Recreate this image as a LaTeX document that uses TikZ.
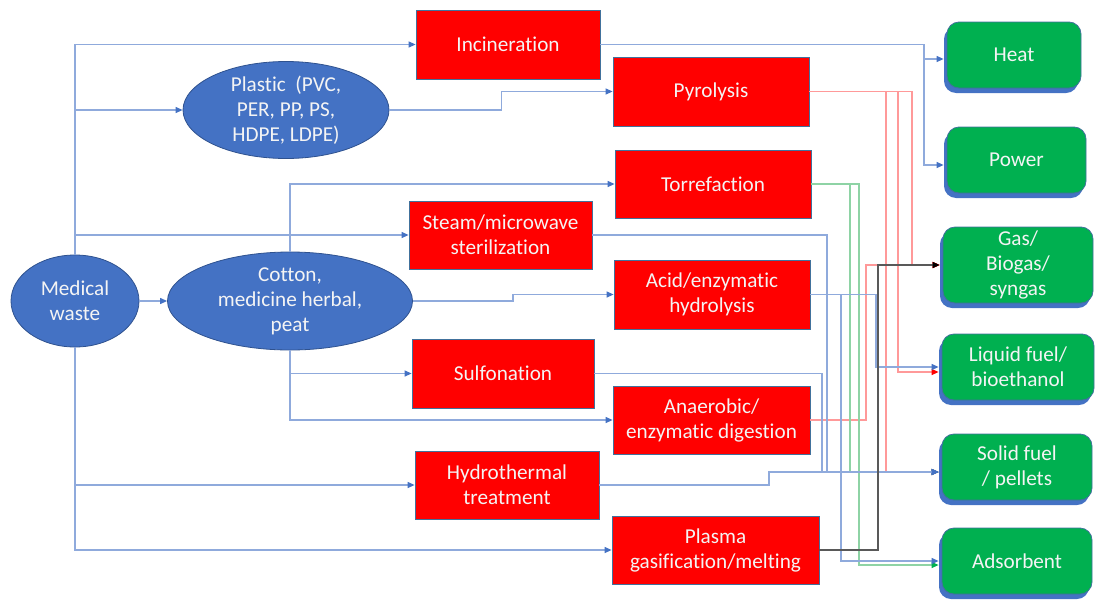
\documentclass[tikz,border=0pt]{standalone}
\usepackage{fontspec}
\setmainfont{Carlito}[Ligatures={NoCommon}]
\usetikzlibrary{arrows.meta,shapes.geometric,shadows,calc}
\definecolor{eblue}{HTML}{4472C4}
\definecolor{eborder}{HTML}{2F528F}
\definecolor{lblue}{HTML}{8FAADC}
\definecolor{lred}{HTML}{FF9999}
\definecolor{lgreen}{HTML}{8ED3A5}
\definecolor{gfill}{HTML}{00B050}
\definecolor{bborder}{HTML}{41719C}
\definecolor{ltext}{HTML}{F4F4F4}
\begin{document}
\begin{tikzpicture}[x=1pt,y=-1pt,
  font=\fontsize{21.2}{25}\selectfont,
  ell/.style={ellipse, fill=eblue, draw=eborder, line width=0.8pt, text=ltext, align=center, inner sep=0pt},
  proc/.style={rectangle, fill=red, draw=bborder, line width=0.8pt, text=ltext, align=center, inner sep=0pt},
  prod/.style={rectangle, rounded corners=12pt, fill=gfill, draw=bborder, line width=0.8pt, text=ltext, align=center, inner sep=0pt,
    general shadow={fill=eblue, shadow xshift=-3pt, shadow yshift=-5pt}},
  bla/.style={draw=lblue, line width=1.2pt, -{Triangle[length=7pt,width=6pt,color=eblue]}},
  rda/.style={draw=lred, line width=1.2pt, -{Triangle[length=7pt,width=6pt,color=red]}},
  gra/.style={draw=lgreen, line width=1.2pt, -{Triangle[length=7pt,width=6pt,color=gfill]}},
  bka/.style={draw=black!65, line width=1.2pt, -{Triangle[length=7pt,width=6pt,color=black]}}
]
\useasboundingbox (0,0) rectangle (1097,608);

% source ellipses
\node[ell, minimum width=128pt, minimum height=92pt] (mw) at (75,301) {Medical\\waste};
\node[ell, minimum width=206pt, minimum height=97pt] (plastic) at (286,110) {Plastic~ (PVC,\\PER, PP, PS,\\HDPE, LDPE)};
\node[ell, minimum width=245pt, minimum height=98pt] (cotton) at (290,301) {Cotton,\\medicine herbal,\\peat};

% processes
\node[proc, minimum width=184pt, minimum height=69pt] (inc) at (508,44.5) {Incineration};
\node[proc, minimum width=196pt, minimum height=69pt] (pyr) at (711,91.5) {Pyrolysis};
\node[proc, minimum width=196pt, minimum height=68pt] (tor) at (713,184) {Torrefaction};
\node[proc, minimum width=183pt, minimum height=68pt] (steam) at (500.5,235) {Steam/microwave\\sterilization};
\node[proc, minimum width=196pt, minimum height=69pt] (acid) at (712,294.5) {Acid/enzymatic\\hydrolysis};
\node[proc, minimum width=182pt, minimum height=69pt] (sulf) at (503,373.5) {Sulfonation};
\node[proc, minimum width=197pt, minimum height=68pt] (anae) at (711.5,420) {Anaerobic/\\enzymatic digestion};
\node[proc, minimum width=184pt, minimum height=68pt] (hydro) at (507,485) {Hydrothermal\\treatment};
\node[proc, minimum width=207pt, minimum height=68pt] (plasma) at (715.5,550) {Plasma\\gasification/melting};

% products
\node[prod, minimum width=134pt, minimum height=66pt] (heat) at (1014,55) {Heat};
\node[prod, minimum width=139pt, minimum height=66pt] (power) at (1016.5,160) {Power};
\node[prod, minimum width=150pt, minimum height=76pt] (gas) at (1018,265) {Gas/\\Biogas/\\syngas};
\node[prod, minimum width=152pt, minimum height=66pt] (liquid) at (1018,367) {Liquid fuel/\\bioethanol};
\node[prod, minimum width=150pt, minimum height=66pt] (solid) at (1017,467) {Solid fuel\\/ pellets};
\node[prod, minimum width=150pt, minimum height=66pt] (ads) at (1017,561) {Adsorbent};

% left side connectors
\draw[bla] (mw.north) |- (inc.west);
\draw[bla] (mw.north) |- (plastic.west);
\draw[bla] (mw.north) |- (steam.west);
\draw[bla] (mw.south) |- (hydro.west);
\draw[bla] (mw.south) |- (plasma.west);
\draw[bla] (mw.east) -- (cotton.west);
\draw[bla] (plastic.east) -- ++(112,0) |- (pyr.west);
\draw[bla] (cotton.north) |- (tor.west);
\draw[bla] (cotton.east) -- ++(100,0) |- (acid.west);
\draw[bla] (cotton.south) |- (sulf.west);
\draw[bla] (cotton.south) |- (anae.west);

% right side connectors
\draw[bla] (inc.east) -- (924,44.5) |- ($(heat.west)+(-3,4)$);
\draw[bla] (inc.east) -- (924,44.5) |- ($(power.west)+(-3,5)$);
\draw[rda] (pyr.east) -- (912,91.5) |- ($(gas.west)+(-3,0)$);
\draw[rda] (pyr.east) -- (898,91.5) |- ($(liquid.west)+(-3,5)$);
\draw[rda] (pyr.east) -- (886,91.5) |- ($(solid.west)+(-3,5)$);
\draw[rda] (anae.east) -- (866,420) |- ($(gas.west)+(-3,0)$);
\draw[gra] (tor.east) -- (850,184) |- ($(solid.west)+(-3,5)$);
\draw[gra] (tor.east) -- (859,184) |- ($(ads.west)+(-3,4)$);
\draw[bla] (steam.east) -- (827,235) |- ($(solid.west)+(-3,5)$);
\draw[bla] (acid.east) -- (876,294.5) |- ($(liquid.west)+(-3,0)$);
\draw[bla] (acid.east) -- (841,294.5) |- ($(ads.west)+(-3,0)$);
\draw[bla] (sulf.east) -- (822,373.5) |- ($(solid.west)+(-3,5)$);
\draw[bla] (hydro.east) -- (769,485) |- ($(solid.west)+(-3,5)$);
\draw[bka] (plasma.east) -- (878,550) |- ($(gas.west)+(-3,0)$);
\end{tikzpicture}
\end{document}
